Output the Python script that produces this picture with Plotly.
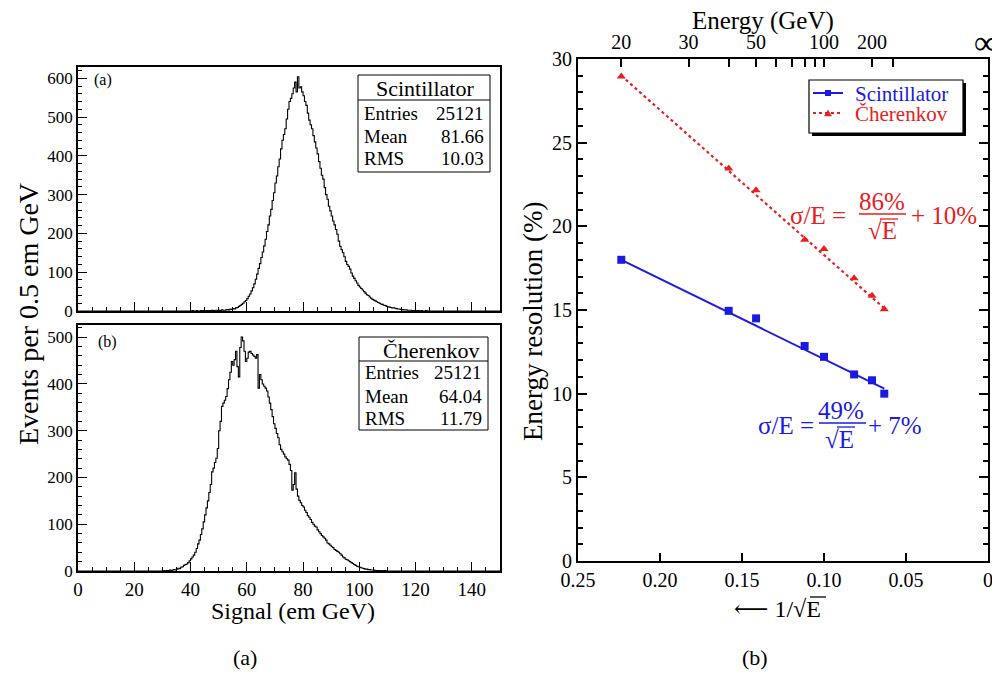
import numpy as np
import plotly.graph_objects as go

# ---------------- data ----------------
# (a) Scintillator histogram, 0.5 em GeV bins starting at 40.0
scint_start = 40.0
scint_counts = [
    0, 1, 0, 0, 1, 0, 0, 1, 0, 1,
    0, 1, 1, 0, 1, 2, 1, 0, 2, 1,
    2, 1, 3, 2, 2, 3, 4, 3, 5, 4,
    6, 5, 8, 9, 12, 14, 17, 20, 24, 27,
    32, 38, 44, 52, 60, 70, 82, 95, 110, 122,
    138, 152, 168, 185, 205, 222, 245, 262, 285, 305,
    330, 348, 372, 392, 418, 440, 455, 470, 495, 520,
    540, 548, 560, 575, 590, 565, 604, 575, 578, 565,
    555, 540, 530, 510, 492, 480, 470, 452, 436, 420,
    405, 385, 368, 350, 340, 318, 300, 288, 270, 258,
    245, 232, 222, 210, 198, 180, 167, 158, 150, 140,
    128, 120, 115, 108, 98, 90, 84, 78, 72, 66,
    62, 58, 54, 50, 46, 42, 40, 36, 33, 30,
    28, 26, 24, 22, 20, 18, 17, 15, 14, 12,
    11, 10, 9, 8, 8, 7, 6, 5, 5, 4,
    4, 3, 3, 3, 2, 2, 2, 1, 1, 1,
    1, 1, 1, 0, 1, 0, 0, 1, 0, 0,
]
# (b) Cherenkov histogram, 0.5 em GeV bins starting at 30.0
cher_start = 30.0
cher_counts = [
    0, 1, 0, 1, 1, 2, 1, 2, 3, 2,
    4, 6, 5, 8, 9, 12, 14, 15, 18, 22,
    26, 30, 34, 40, 48, 58, 66, 78, 90, 105,
    120, 135, 150, 168, 185, 212, 220, 232, 241, 262,
    300, 320, 352, 359, 365, 373, 390, 409, 425, 448,
    440, 452, 470, 437, 415, 478, 500, 492, 470, 448,
    455, 468, 470, 465, 462, 459, 455, 463, 391, 420,
    409, 400, 395, 391, 385, 372, 359, 345, 330, 315,
    305, 294, 285, 270, 260, 255, 250, 244, 240, 237,
    228, 215, 173, 185, 210, 175, 160, 151, 146, 140,
    137, 130, 125, 118, 115, 110, 104, 100, 96, 94,
    88, 84, 80, 76, 73, 70, 66, 60, 58, 55,
    52, 50, 46, 44, 42, 40, 37, 34, 30, 28,
    25, 24, 22, 20, 18, 16, 14, 12, 10, 9,
    8, 7, 6, 5, 4, 4, 3, 3, 2, 2,
    2, 1, 1, 1, 1, 0, 1, 0, 1, 0,
]
bin_width = 0.5

stats_a = [("Entries", "25121"), ("Mean", "81.66"), ("RMS", "10.03")]
stats_b = [("Entries", "25121"), ("Mean", "64.04"), ("RMS", "11.79")]

# (b) right panel: energy resolution vs 1/sqrt(E)
energies = [20, 40, 50, 80, 100, 150, 200, 250]
res_scint = [18.0, 14.95, 14.5, 12.85, 12.2, 11.15, 10.8, 10.0]
res_cher = [28.95, 23.45, 22.15, 19.2, 18.65, 16.9, 15.85, 15.05]
fit_E = [20, 250]
fit_scint = [18.0, 10.3]
fit_cher = [29.0, 15.1]

bottom_ticks = [0.25, 0.20, 0.15, 0.10, 0.05, 0.0]
bottom_ticktext = ["0.25", "0.20", "0.15", "0.10", "0.05", "0"]
top_E_major = [20, 30, 50, 100, 200]
top_E_major_text = ["20", "30", "50", "100", "200"]
top_E_minor = [40, 60, 70, 80, 90, 300]

BLUE = "#1a1ae0"
RED = "#e62020"
FONT = "Liberation Serif, Times New Roman, DejaVu Serif, serif"
# the page places the figure 8 px from the top-left corner of the window
OFF = 8
W, H = 1000 - OFF, 677 - OFF


def px(x):
    return (x - OFF) / W


def py(y):
    return 1 - (y - OFF) / H


def inv_sqrt(vals):
    return [1.0 / np.sqrt(v) for v in vals]


def step_xy(start, counts, xmax):
    edges = start + bin_width * np.arange(len(counts) + 1)
    xs = [0.0] + list(edges) + [xmax]
    ys = [0] + list(counts) + [0, 0]
    return xs, ys


fig = go.Figure()

xa, ya = step_xy(scint_start, scint_counts, 150)
fig.add_trace(go.Scatter(x=xa, y=ya, mode="lines", line=dict(color="black", width=1.1, shape="hv"),
                         xaxis="x", yaxis="y", showlegend=False, hoverinfo="skip"))
xb, yb = step_xy(cher_start, cher_counts, 150)
fig.add_trace(go.Scatter(x=xb, y=yb, mode="lines", line=dict(color="black", width=1.1, shape="hv"),
                         xaxis="x2", yaxis="y2", showlegend=False, hoverinfo="skip"))

# right panel fits
fig.add_trace(go.Scatter(x=inv_sqrt(fit_E), y=fit_cher, mode="lines",
                         line=dict(color=RED, width=2.2, dash="dot"),
                         xaxis="x3", yaxis="y3", showlegend=False, hoverinfo="skip"))
fig.add_trace(go.Scatter(x=inv_sqrt(fit_E), y=fit_scint, mode="lines",
                         line=dict(color=BLUE, width=2),
                         xaxis="x3", yaxis="y3", showlegend=False, hoverinfo="skip"))
fig.add_trace(go.Scatter(x=inv_sqrt(energies), y=res_cher, mode="markers",
                         marker=dict(symbol="triangle-up", size=8, color=RED),
                         xaxis="x3", yaxis="y3", showlegend=False))
fig.add_trace(go.Scatter(x=inv_sqrt(energies), y=res_scint, mode="markers",
                         marker=dict(symbol="square", size=8, color=BLUE),
                         xaxis="x3", yaxis="y3", showlegend=False))
# dummy trace for top energy axis
fig.add_trace(go.Scatter(x=[0.1], y=[-10], mode="markers", marker=dict(opacity=0),
                         xaxis="x4", yaxis="y3", showlegend=False, hoverinfo="skip"))

axis_common = dict(showline=True, linecolor="black", showgrid=False, zeroline=False,
                   ticks="inside", tickcolor="black", automargin=False)

hist_x = dict(axis_common, range=[0, 150], dtick=20, tick0=0, ticklen=9, tickwidth=1, linewidth=1.5,
              mirror=True, minor=dict(dtick=5, ticklen=4, ticks="inside", tickcolor="black"),
              tickfont=dict(family=FONT, size=19, color="black"))
hist_y = dict(axis_common, dtick=100, tick0=0, ticklen=9, tickwidth=1, linewidth=1.5, mirror=True,
              minor=dict(dtick=20, ticklen=4, ticks="inside", tickcolor="black"),
              tickfont=dict(family=FONT, size=17, color="black"))

fig.update_layout(
    width=W, height=H, margin=dict(l=0, r=0, t=0, b=0, autoexpand=False),
    paper_bgcolor="white", plot_bgcolor="white",
    font=dict(family=FONT, color="black"),
    showlegend=False,
    xaxis=dict(hist_x, domain=[px(78), px(500)], anchor="y", showticklabels=False),
    yaxis=dict(hist_y, domain=[py(311), py(67)], anchor="x", range=[0, 629]),
    xaxis2=dict(hist_x, domain=[px(78), px(500)], anchor="y2"),
    yaxis2=dict(hist_y, domain=[py(571), py(325)], anchor="x2", range=[0, 526]),
    xaxis3=dict(axis_common, domain=[px(578), px(988)], anchor="y3", range=[0.25, 0],
                tickmode="array", tickvals=bottom_ticks, ticktext=bottom_ticktext,
                ticklen=8, linewidth=2, tickwidth=1.5,
                tickfont=dict(family=FONT, size=20, color="black")),
    yaxis3=dict(axis_common, domain=[py(561), py(59)], anchor="x3", range=[0, 30],
                dtick=5, tick0=0, ticklen=9, linewidth=2, tickwidth=1.5, mirror="ticks",
                minor=dict(dtick=1, ticklen=5, ticks="inside", tickcolor="black"),
                tickfont=dict(family=FONT, size=20, color="black")),
    xaxis4=dict(axis_common, overlaying="x3", anchor="y3", side="top", range=[0.25, 0],
                tickmode="array", tickvals=inv_sqrt(top_E_major),
                ticktext=top_E_major_text,
                ticklen=8, linewidth=2, tickwidth=1.5,
                minor=dict(tickmode="array", tickvals=inv_sqrt(top_E_minor), ticklen=8,
                           ticks="inside", tickcolor="black"),
                tickfont=dict(family=FONT, size=20, color="black")),
)

shapes = []
annotations = []


def ann(text, x, y, size, color="black", xanchor="center", yanchor="middle", angle=0):
    annotations.append(dict(text=text, x=px(x), y=py(y), xref="paper", yref="paper",
                            xanchor=xanchor, yanchor=yanchor, showarrow=False, textangle=angle,
                            font=dict(family=FONT, size=size, color=color)))


def line(x0, y0, x1, y1, color="black", width=1, dash="solid"):
    shapes.append(dict(type="line", xref="paper", yref="paper", x0=px(x0), y0=py(y0),
                       x1=px(x1), y1=py(y1), line=dict(color=color, width=width, dash=dash)))


def rect(x0, y0, x1, y1, color="black", width=1, fill=None):
    shapes.append(dict(type="rect", xref="paper", yref="paper", x0=px(x0), y0=py(y0),
                       x1=px(x1), y1=py(y1), line=dict(color=color, width=width),
                       fillcolor=fill if fill else "rgba(0,0,0,0)"))


def path(d_points, color):
    d = "M " + " L ".join(f"{px(x)},{py(y)}" for x, y in d_points) + " Z"
    shapes.append(dict(type="path", xref="paper", yref="paper", path=d,
                       fillcolor=color, line=dict(color=color, width=0.5)))


# stats boxes
def stats_box(x0, y0, x1, y1, ytitle_bottom, title, title_x, rows, row_ys):
    rect(x0, y0, x1, y1, width=1, fill="white")
    line(x0, ytitle_bottom, x1, ytitle_bottom, width=1)
    ann(title, title_x, (y0 + ytitle_bottom) / 2 + 1, 22)
    for (k, v), yy in zip(rows, row_ys):
        ann(k, x0 + 4, yy, 19, xanchor="left")
        ann(v, x1 - 4, yy, 19, xanchor="right")


stats_box(358, 75, 490, 172, 100, "Scintillator", 425, stats_a, [113, 136, 158])
stats_box(359, 337, 488, 430, 361, "Čherenkov", 431, stats_b, [373, 396, 418])

ann("(a)", 103, 80, 16)
ann("(b)", 107, 342, 16)

ann("Events per 0.5 em GeV", 28, 314, 28, angle=-90)
ann("Signal (em GeV)", 293, 611, 24)
ann("(a)", 245, 657, 22)
ann("(b)", 755, 657, 22)

# right panel labels
ann("Energy (GeV)", 763, 21, 25)
ann("∞", 986, 42, 34)
ann("Energy resolution (%)", 533, 322, 27, angle=-90)
ann("⟵ 1/√E", 777, 609, 24)
line(810, 597, 826, 597, "black", 1.3)

# manual legend
rect(812, 83, 966, 136, color="black", width=0, fill="black")
rect(809, 80, 963, 133, color="black", width=1.2, fill="white")
line(813, 93, 843, 93, BLUE, 2)
rect(825, 90, 831, 96, color=BLUE, width=0, fill=BLUE)
ann("Scintillator", 853, 94, 21, BLUE, xanchor="left")
line(813, 113, 843, 113, RED, 2, dash="dot")
path([(824.5, 116), (831.5, 116), (828, 110)], RED)
ann("Čherenkov", 853, 114, 21, RED, xanchor="left")

# formulas
ann("σ/E =", 818, 216, 25, RED)
ann("86%", 882, 201, 25, RED)
line(859, 214, 906, 214, RED, 1.5)
ann("√E", 882, 231, 25, RED)
line(880, 219, 898, 219, RED, 1.3)
ann("+ 10%", 944, 216, 25, RED)

ann("σ/E =", 786, 425, 25, BLUE)
ann("49%", 841, 410, 25, BLUE)
line(819, 423, 866, 423, BLUE, 1.5)
ann("√E", 839, 439, 25, BLUE)
line(837, 427, 855, 427, BLUE, 1.3)
ann("+ 7%", 895, 425, 25, BLUE)

fig.update_layout(shapes=shapes, annotations=annotations)
fig.write_html("out.html")
